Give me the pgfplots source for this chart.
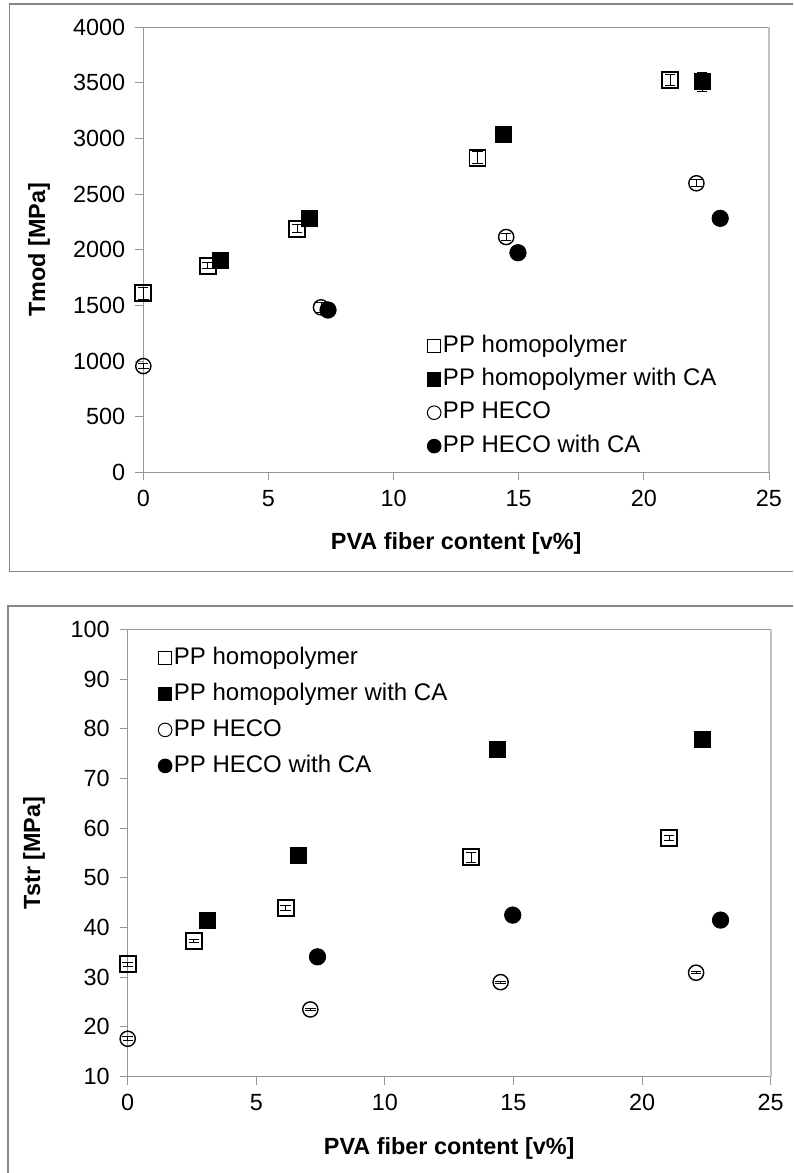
\documentclass[border=0pt]{standalone}
\usepackage{fontspec}
\setmainfont{Liberation Sans}
\usepackage{pgfplots}
\pgfplotsset{compat=1.18}

\definecolor{framegray}{RGB}{135,135,135}
\definecolor{axisgray}{RGB}{150,150,150}
\definecolor{edgegray}{RGB}{192,192,192}

\pgfplotsset{
  panel/.style={
    scale only axis,
    anchor=south west,
    clip=false,
    xmin=0, xmax=25,
    xtick={0,5,...,25},
    axis line style={axisgray, line width=0.5pt},
    tick style={axisgray, line width=0.5pt},
    major tick length=4pt,
    tick align=outside,
    xtick pos=lower, ytick pos=left,
    /pgf/number format/assume math mode=true,
    /pgf/number format/1000 sep={},
    tick label style={black, font=\fontsize{11.7}{14}\selectfont},
    yticklabel style={xshift=-1.5pt},
    xticklabel style={yshift=-1.5pt},
    label style={font=\fontsize{11.7}{14}\selectfont\bfseries},
    legend cell align=left,
    legend style={draw=none, fill=none, inner sep=0pt, row sep=3.6pt,
      font=\fontsize{12}{14.4}\selectfont,
      nodes={inner sep=1pt, text height=8.6pt, text depth=2.5pt, anchor=west}},
    legend image code/.code={\draw[##1, mark size=3.4pt, every mark/.append style={line width=0.5pt}] plot coordinates {(3.4pt,0pt)};},
  },
  errs/.style={error bars/.cd, y dir=both, y explicit,
      error bar style={black, line width=0.45pt},
      error mark options={rotate=90, mark size=2.6pt, line width=0.45pt, black}},
  opensq/.style={only marks, mark=square, mark size=4pt, mark options={draw=black, fill=none, line width=0.9pt}, errs},
  fillsq/.style={only marks, mark=square*, mark size=4pt, mark options={draw=black, fill=black}, errs},
  opencirc/.style={only marks, mark=o, mark size=3.8pt, mark options={draw=black, fill=none, line width=0.7pt}, errs},
  fillcirc/.style={only marks, mark=*, mark size=4.1pt, mark options={draw=black, fill=black}, errs},
}

\begin{document}
\begin{tikzpicture}[font=\fontsize{11.7}{14}\selectfont]
\useasboundingbox (0,0) rectangle (396.5pt,-586.5pt);
% outer frames of the two panels
\draw[framegray, line width=0.65pt] (396.5pt,-2pt) -- (4.9pt,-2pt) -- (4.9pt,-285.6pt) -- (396.5pt,-285.6pt);
\draw[framegray, line width=1pt] (396.5pt,-303.1pt) -- (3.85pt,-303.1pt) -- (3.85pt,-586.5pt);

% ---------- modulus ----------
\begin{axis}[panel,
  at={(71.65pt,-236.15pt)},
  width=312.85pt, height=222.5pt,
  ymin=0, ymax=4000, ytick={0,500,...,4000},
  xlabel={PVA fiber content [v\%]},
  ylabel={Tmod [MPa]},
  xlabel style={at={(axis description cs:0.5,-0.159)}, anchor=center},
  ylabel style={at={(axis description cs:-0.1667,0.5)}, anchor=center},
  legend style={at={(rel axis cs:0.4534,0.3144)}, anchor=north west},
]
\draw[edgegray, line width=1pt] (rel axis cs:1,0) -- (rel axis cs:1,1);
\addplot+[opensq] coordinates {
  (0,1610) +- (0,55)
  (2.57,1857) +- (0,25)
  (6.14,2190) +- (0,35)
  (13.35,2828) +- (0,55)
  (21.05,3526) +- (0,50)
};
\addplot+[fillsq] coordinates {
  (3.08,1906) +- (0,20)
  (6.65,2283) +- (0,20)
  (14.38,3038) +- (0,20)
  (22.33,3511) +- (0,85)
};
\addplot+[opencirc] coordinates {
  (0,955) +- (0,20)
  (7.1,1483) +- (0,45)
  (14.5,2115) +- (0,35)
  (22.1,2598) +- (0,30)
};
\addplot+[fillcirc] coordinates {
  (7.38,1459) +- (0,15)
  (14.97,1974) +- (0,15)
  (23.05,2283) +- (0,15)
};
\legend{PP homopolymer, PP homopolymer with CA, PP HECO, PP HECO with CA}
\end{axis}

% ---------- strength ----------
\begin{axis}[panel,
  at={(63.85pt,-538.25pt)},
  width=321.5pt, height=223.5pt,
  ymin=10, ymax=100, ytick={10,20,...,100},
  xlabel={PVA fiber content [v\%]},
  ylabel={Tstr [MPa]},
  xlabel style={at={(axis description cs:0.5,-0.16)}, anchor=center},
  ylabel style={at={(axis description cs:-0.1457,0.5)}, anchor=center},
  legend style={at={(rel axis cs:0.047,0.9667)}, anchor=north west, row sep=4.9pt},
]
\draw[edgegray, line width=1pt] (rel axis cs:1,0) -- (rel axis cs:1,1);
\addplot+[opensq] coordinates {
  (0,32.6) +- (0,0.4)
  (2.57,37.3) +- (0,0.3)
  (6.14,43.9) +- (0,0.5)
  (13.35,54.2) +- (0,1.0)
  (21.05,58.1) +- (0,0.5)
};
\addplot+[fillsq] coordinates {
  (3.08,41.4) +- (0,0.3)
  (6.65,54.5) +- (0,0.3)
  (14.38,75.8) +- (0,0.3)
  (22.33,77.9) +- (0,1.1)
};
\addplot+[opencirc] coordinates {
  (0,17.6) +- (0,0.4)
  (7.1,23.5) +- (0,0.2)
  (14.5,29.0) +- (0,0.2)
  (22.1,30.9) +- (0,0.2)
};
\addplot+[fillcirc] coordinates {
  (7.38,34.1) +- (0,0.3)
  (14.97,42.5) +- (0,0.3)
  (23.05,41.5) +- (0,0.3)
};
\legend{PP homopolymer, PP homopolymer with CA, PP HECO, PP HECO with CA}
\end{axis}
\end{tikzpicture}
\end{document}
